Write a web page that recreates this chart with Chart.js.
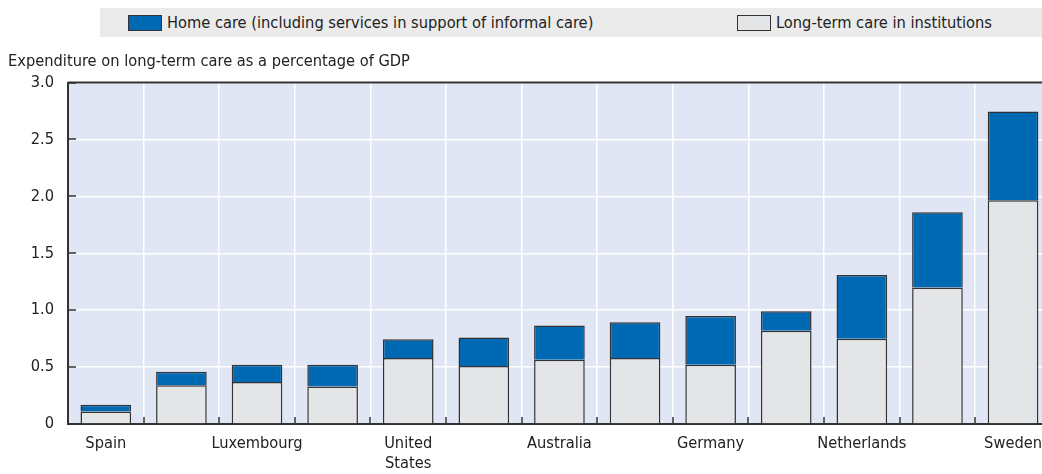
<!DOCTYPE html>
<html>
<head>
<meta charset="utf-8">
<script src="https://cdn.jsdelivr.net/npm/chart.js@4.4.1/dist/chart.umd.min.js"></script>
<style>
  html, body { margin: 0; padding: 0; background: #fff; overflow: hidden; }
  body { width: 1042px; height: 474px; position: relative; font-family: "DejaVu Sans Condensed", sans-serif; }
  #legend { position: absolute; left: 100px; top: 8px; width: 942px; height: 29px; background: #ebebeb; color: #222; font-size: 16.3px; }
  .item { position: absolute; top: 5px; display: flex; align-items: center; white-space: nowrap; }
  .box { width: 34px; height: 16px; border: 1px solid #333; margin-right: 5px; box-sizing: border-box; }
  #wrap { position: absolute; left: 0; top: 45px; width: 1052px; height: 429px; }
</style>
</head>
<body>
<div id="legend"></div>
<div id="wrap"><canvas id="chart"></canvas></div>
<script>
// data (% of GDP)
const countries = ['Spain', 'Hungary', 'Luxembourg', 'Korea', ['United', 'States'], 'Austria',
  'Australia', 'Canada', 'Germany', 'Switzerland', 'Netherlands', 'Norway', 'Sweden'];
const institutions = [0.11, 0.34, 0.37, 0.33, 0.58, 0.51, 0.565, 0.58, 0.52, 0.82, 0.75, 1.2, 1.965];
const homeCare = [0.06, 0.12, 0.15, 0.19, 0.165, 0.25, 0.30, 0.315, 0.43, 0.17, 0.56, 0.66, 0.78];
const yTicks = [0, 0.5, 1.0, 1.5, 2.0, 2.5, 3.0];

const homeLabel = 'Home care (including services in support of informal care)';
const instLabel = 'Long-term care in institutions';
const blue = '#0069b4';
const grey = '#e4e5e7';
const dark = '#333333';
const fontFamily = '"DejaVu Sans Condensed", sans-serif';

// html legend (items sit far apart like the original)
const legendEl = document.getElementById('legend');
[[homeLabel, blue, 28], [instLabel, grey, 637]].forEach(([txt, col, left]) => {
  const d = document.createElement('div');
  d.className = 'item';
  d.style.left = left + 'px';
  d.innerHTML = '<span class="box" style="background:' + col + '"></span>' + txt;
  legendEl.appendChild(d);
});

// plot background, top border and inside tick marks
const plotDecor = {
  id: 'plotDecor',
  beforeDraw(chart) {
    const { ctx, chartArea: a } = chart;
    ctx.save();
    ctx.fillStyle = '#e0e6f4';
    ctx.fillRect(a.left, a.top, a.right - a.left, a.bottom - a.top);
    ctx.restore();
  },
  afterDatasetsDraw(chart) {
    const { ctx, chartArea: a, scales } = chart;
    ctx.save();
    ctx.strokeStyle = dark;
    ctx.lineWidth = 2;
    ctx.beginPath();
    ctx.moveTo(a.left, a.top);
    ctx.lineTo(a.right, a.top);
    ctx.stroke();
    ctx.lineWidth = 1.5;
    ctx.beginPath();
    const n = countries.length;
    for (let i = 1; i < n; i++) {
      const x = Math.round((scales.x.getPixelForValue(i - 1) + scales.x.getPixelForValue(i)) / 2);
      ctx.moveTo(x, a.bottom);
      ctx.lineTo(x, a.bottom - 7);
    }
    yTicks.forEach(v => {
      if (v === 0) return;
      const y = Math.round(scales.y.getPixelForValue(v));
      ctx.moveTo(a.left, y);
      ctx.lineTo(a.left + 8, y);
    });
    ctx.stroke();
    ctx.restore();
  }
};

new Chart(document.getElementById('chart'), {
  type: 'bar',
  data: {
    labels: countries,
    datasets: [
      { label: instLabel, data: institutions, backgroundColor: grey, borderColor: dark, borderWidth: 1.5, borderSkipped: 'bottom' },
      { label: homeLabel, data: homeCare, backgroundColor: blue, borderColor: dark, borderWidth: 1.5, borderSkipped: 'bottom' }
    ]
  },
  options: {
    responsive: true,
    maintainAspectRatio: false,
    animation: false,
    layout: { padding: { left: 8, right: 0, top: 0, bottom: 0 } },
    datasets: { bar: { categoryPercentage: 1.0, barPercentage: 0.67 } },
    plugins: {
      legend: { display: false },
      tooltip: { enabled: false },
      title: {
        display: true,
        text: 'Expenditure on long-term care as a percentage of GDP',
        align: 'start',
        color: '#222',
        font: { family: fontFamily, size: 16.3, weight: 'normal' },
        padding: { top: 7, bottom: 11 }
      }
    },
    scales: {
      x: {
        stacked: true,
        grid: { offset: true, color: '#ffffff', lineWidth: 1.5, drawTicks: false },
        border: { display: true, color: dark, width: 2 },
        ticks: {
          autoSkip: false,
          maxRotation: 0,
          padding: 10,
          color: '#222',
          font: { family: fontFamily, size: 16.3, lineHeight: 1.2 },
          callback: (v, i) => (i % 2 === 0 ? countries[i] : '')
        },
        afterFit: s => { s.height = 50; }
      },
      y: {
        stacked: true,
        min: 0,
        max: 3,
        afterBuildTicks: s => { s.ticks = yTicks.map(v => ({ value: v })); },
        grid: { color: '#ffffff', lineWidth: 1.5, drawTicks: false },
        border: { display: true, color: dark, width: 2 },
        ticks: {
          padding: 14,
          color: '#222',
          font: { family: fontFamily, size: 16.3 },
          callback: v => (v === 0 ? '0' : v.toFixed(1))
        },
        afterFit: s => { s.width = 60; }
      }
    }
  },
  plugins: [plotDecor]
});
</script>
</body>
</html>
